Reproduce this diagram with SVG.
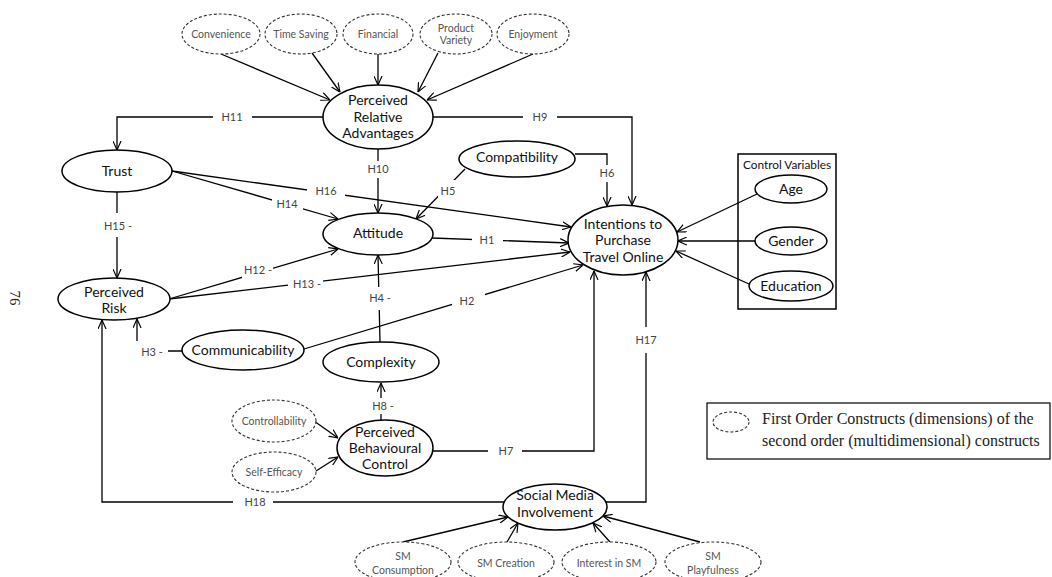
<svg xmlns="http://www.w3.org/2000/svg" width="1052" height="577" viewBox="0 0 1052 577">
<defs>
<marker id="arr" viewBox="0 0 10 10" refX="10" refY="5" markerWidth="9" markerHeight="9" markerUnits="userSpaceOnUse" orient="auto">
<path d="M0,0.5 L10,5 L0,9.5" fill="none" stroke="#000" stroke-width="1.3"/>
</marker>
<style>
.n{fill:#fff;stroke:#000;stroke-width:1.5}
.d{fill:#fff;stroke:#333;stroke-width:1.1;stroke-dasharray:3 2}
.c{fill:none;stroke:#000;stroke-width:1.3}
.a{marker-end:url(#arr)}
.t{font-family:Lato,"Liberation Sans",sans-serif;font-size:14px;fill:#111;text-anchor:middle}
.s{font-family:Lato,"Liberation Sans",sans-serif;font-size:10.5px;fill:#555;text-anchor:middle}
.h{font-family:Lato,"Liberation Sans",sans-serif;font-size:11px;fill:#444;text-anchor:middle}
.g{fill:#fff;stroke:none}
.lg{font-family:"Liberation Serif",serif;font-size:16px;fill:#222}
</style>
</defs>
<rect width="1052" height="577" fill="#fff"/>
<g id="connectors">
<line class="c a" x1="221" y1="54" x2="330" y2="100"/>
<line class="c a" x1="312" y1="53" x2="340" y2="92"/>
<line class="c a" x1="378" y1="54" x2="378" y2="85"/>
<line class="c a" x1="438" y1="53" x2="418" y2="92"/>
<line class="c a" x1="533" y1="54" x2="427" y2="100"/>
<polyline class="c a" points="323,117 117,117 117,150"/>
<polyline class="c a" points="433,117 632,117 632,205"/>
<line class="c a" x1="378" y1="149" x2="378" y2="213"/>
<polyline class="c a" points="575,154 607,154 607,206"/>
<line class="c a" x1="465" y1="169" x2="416" y2="219"/>
<line class="c a" x1="172" y1="171" x2="571" y2="227"/>
<line class="c a" x1="172" y1="171" x2="338" y2="219"/>
<line class="c a" x1="117" y1="192" x2="117" y2="278"/>
<line class="c a" x1="169" y1="299" x2="338" y2="249"/>
<line class="c a" x1="169" y1="299" x2="570" y2="252"/>
<line class="c a" x1="432" y1="238" x2="569" y2="243"/>
<line class="c a" x1="304" y1="349" x2="583" y2="265"/>
<polyline class="c a" points="182,351 137,351 137,319"/>
<polyline class="c a" points="504,502 102,502 102,320"/>
<polyline class="c a" points="606,502 646,502 646,272"/>
<polyline class="c a" points="433,451 594,451 594,271"/>
<line class="c a" x1="381" y1="420" x2="381" y2="383"/>
<line class="c a" x1="380" y1="342" x2="378" y2="255"/>
<line class="c a" x1="314" y1="421" x2="338" y2="438"/>
<line class="c a" x1="316" y1="471" x2="338" y2="457"/>
<line class="c a" x1="403" y1="542" x2="508" y2="517"/>
<line class="c a" x1="507" y1="542" x2="518" y2="523"/>
<line class="c a" x1="610" y1="542" x2="593" y2="523"/>
<line class="c a" x1="700" y1="542" x2="603" y2="516"/>
<line class="c a" x1="757" y1="194" x2="677" y2="232"/>
<line class="c a" x1="755" y1="241" x2="678" y2="241"/>
<line class="c a" x1="749" y1="284" x2="676" y2="251"/>
<rect class="g" x="213" y="110" width="39" height="14"/><text class="h" x="232" y="121">H11</text>
<rect class="g" x="523" y="110" width="34" height="14"/><text class="h" x="540" y="121">H9</text>
<rect class="g" x="370" y="161" width="16" height="17"/><text class="h" x="378" y="173">H10</text>
<rect class="g" x="599" y="165" width="16" height="17"/><text class="h" x="607" y="177">H6</text>
<rect class="g" x="438" y="180" width="22" height="22"/><text class="h" x="448" y="195">H5</text>
<rect class="g" x="307" y="184" width="38" height="15"/><text class="h" x="326" y="195">H16</text>
<rect class="g" x="272" y="197" width="31" height="15"/><text class="h" x="287" y="208">H14</text>
<rect class="g" x="100" y="213" width="34" height="24"/><text class="h" x="118" y="230">H15 -</text>
<rect class="g" x="242" y="262" width="31" height="16"/><text class="h" x="258" y="274">H12 -</text>
<rect class="g" x="288" y="277" width="35" height="14"/><text class="h" x="307" y="288">H13 -</text>
<rect class="g" x="472" y="233" width="31" height="14"/><text class="h" x="487" y="244">H1</text>
<rect class="g" x="452" y="293" width="33" height="16"/><text class="h" x="467" y="305">H2</text>
<rect class="g" x="131" y="341" width="37" height="20"/><text class="h" x="152" y="356">H3 -</text>
<rect class="g" x="368" y="287" width="24" height="23"/><text class="h" x="380" y="302">H4 -</text>
<rect class="g" x="370" y="398" width="26" height="16"/><text class="h" x="383" y="410">H8 -</text>
<rect class="g" x="488" y="444" width="34" height="14"/><text class="h" x="506" y="455">H7</text>
<rect class="g" x="634" y="327" width="24" height="26"/><text class="h" x="646" y="344">H17</text>
<rect class="g" x="233" y="495" width="40" height="14"/><text class="h" x="255" y="506">H18</text>
</g>
<g id="convenience"><ellipse class="d" cx="221" cy="34" rx="39" ry="20"/><text class="s" x="221" y="38">Convenience</text></g>
<g id="time-saving"><ellipse class="d" cx="301" cy="34" rx="36" ry="20"/><text class="s" x="301" y="38">Time Saving</text></g>
<g id="financial"><ellipse class="d" cx="378" cy="34" rx="35" ry="20"/><text class="s" x="378" y="38">Financial</text></g>
<g id="product-variety"><ellipse class="d" cx="456" cy="34" rx="36" ry="20"/><text class="s" x="456" y="32">Product</text><text class="s" x="456" y="44">Variety</text></g>
<g id="enjoyment"><ellipse class="d" cx="533" cy="34" rx="36" ry="20"/><text class="s" x="533" y="38">Enjoyment</text></g>
<g id="pra"><ellipse class="n" cx="378" cy="117" rx="55" ry="32"/><text class="t" x="378" y="105">Perceived</text><text class="t" x="378" y="122">Relative</text><text class="t" x="378" y="138">Advantages</text></g>
<g id="trust"><ellipse class="n" cx="117" cy="171" rx="55" ry="21"/><text class="t" x="117" y="176">Trust</text></g>
<g id="compatibility"><ellipse class="n" cx="517" cy="159" rx="58" ry="18"/><text class="t" x="517" y="162">Compatibility</text></g>
<g id="attitude"><ellipse class="n" cx="378" cy="234" rx="55" ry="21"/><text class="t" x="378" y="238">Attitude</text></g>
<g id="intentions"><ellipse class="n" cx="623" cy="240" rx="55" ry="35"/><text class="t" x="623" y="229">Intentions to</text><text class="t" x="623" y="245">Purchase</text><text class="t" x="623" y="262">Travel Online</text></g>
<g id="perceived-risk"><ellipse class="n" cx="114" cy="299" rx="56" ry="21"/><text class="t" x="114" y="297">Perceived</text><text class="t" x="114" y="313">Risk</text></g>
<g id="communicability"><ellipse class="n" cx="243" cy="350" rx="61" ry="20"/><text class="t" x="243" y="355">Communicability</text></g>
<g id="complexity"><ellipse class="n" cx="381" cy="362" rx="58" ry="20"/><text class="t" x="381" y="367">Complexity</text></g>
<g id="controllability"><ellipse class="d" cx="274" cy="421" rx="42" ry="21"/><text class="s" x="274" y="425">Controllability</text></g>
<g id="self-efficacy"><ellipse class="d" cx="274" cy="472" rx="42" ry="20"/><text class="s" x="274" y="476">Self-Efficacy</text></g>
<g id="pbc"><ellipse class="n" cx="385" cy="448" rx="48" ry="28"/><text class="t" x="385" y="437">Perceived</text><text class="t" x="385" y="453">Behavioural</text><text class="t" x="385" y="469">Control</text></g>
<g id="smi"><ellipse class="n" cx="555" cy="507" rx="52" ry="23"/><text class="t" x="555" y="500">Social Media</text><text class="t" x="555" y="517">Involvement</text></g>
<g id="sm-consumption"><ellipse class="d" cx="403" cy="562" rx="48" ry="20"/><text class="s" x="403" y="560">SM</text><text class="s" x="403" y="574">Consumption</text></g>
<g id="sm-creation"><ellipse class="d" cx="506" cy="562" rx="48" ry="20"/><text class="s" x="506" y="567">SM Creation</text></g>
<g id="interest-sm"><ellipse class="d" cx="609" cy="562" rx="47" ry="20"/><text class="s" x="609" y="567">Interest in SM</text></g>
<g id="sm-playfulness"><ellipse class="d" cx="713" cy="562" rx="48" ry="20"/><text class="s" x="713" y="560">SM</text><text class="s" x="713" y="574">Playfulness</text></g>
<g id="control-variables"><rect x="738" y="154" width="98" height="155" fill="none" stroke="#000" stroke-width="1.5"/><text class="t" x="787" y="169" style="font-size:11.8px">Control Variables</text></g>
<g id="age"><ellipse class="n" cx="791" cy="189" rx="36" ry="14"/><text class="t" x="791" y="194">Age</text></g>
<g id="gender"><ellipse class="n" cx="791" cy="241" rx="36" ry="14"/><text class="t" x="791" y="246">Gender</text></g>
<g id="education"><ellipse class="n" cx="791" cy="286" rx="42" ry="15"/><text class="t" x="791" y="291">Education</text></g>
<g id="legend"><rect x="707" y="403" width="343" height="56" fill="none" stroke="#000" stroke-width="1.2"/><ellipse class="d" cx="731" cy="422" rx="18" ry="10"/><text class="lg" x="762" y="424">First Order Constructs (dimensions) of the</text><text class="lg" x="762" y="446">second order (multidimensional) constructs</text></g>
<g id="page-number"><text transform="translate(10,298) rotate(90)" style="font-family:'Liberation Serif',serif;font-size:15px;fill:#222;text-anchor:middle">76</text></g>
</svg>
